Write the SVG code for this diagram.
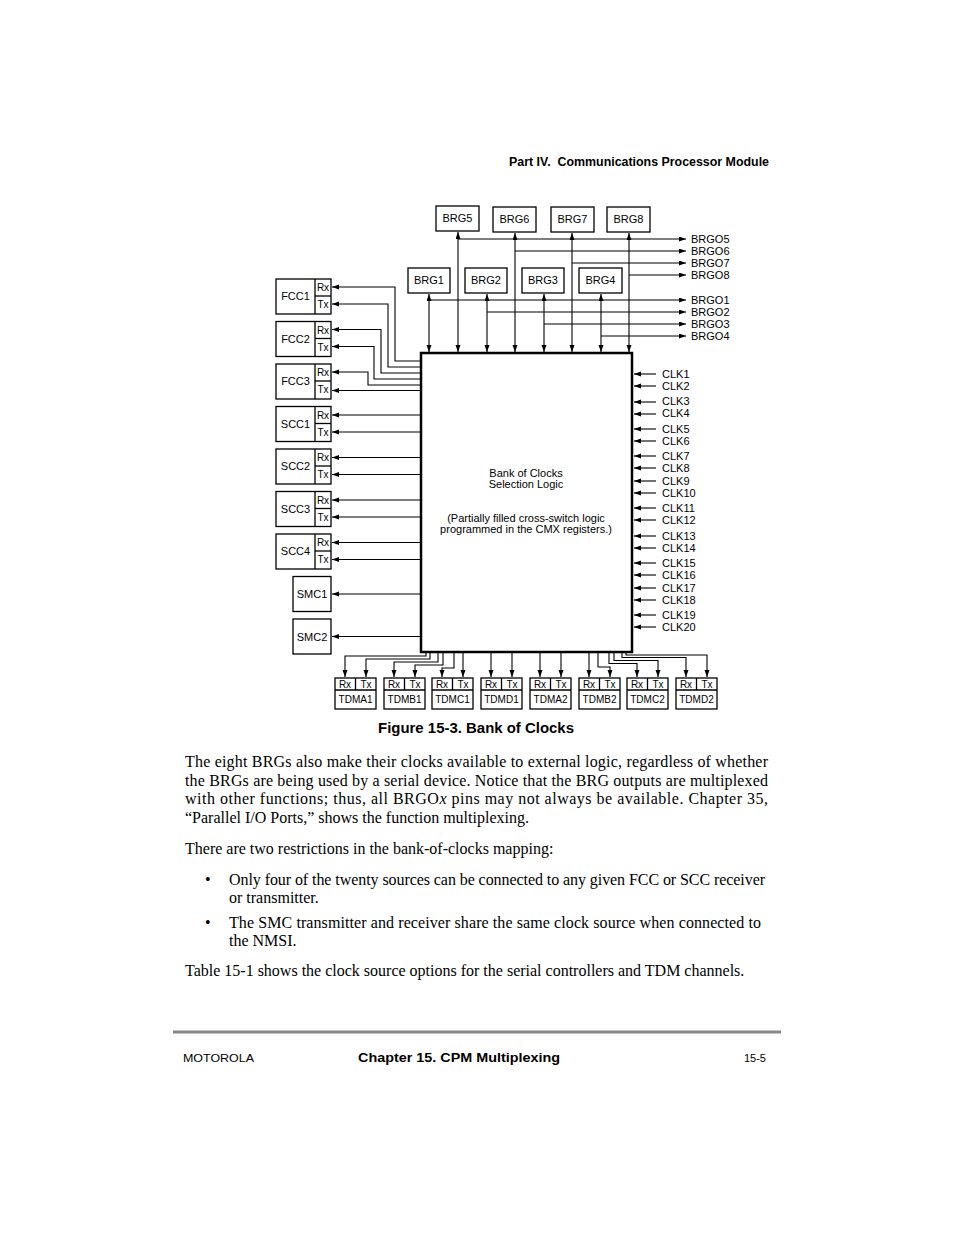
<svg xmlns="http://www.w3.org/2000/svg" width="954" height="1235" viewBox="0 0 954 1235">
<style>
.bx{fill:#fff;stroke:#000;stroke-width:1.3}
.ln{fill:none;stroke:#000;stroke-width:1.1}
.t{font-family:"Liberation Sans",Arial,sans-serif;font-size:11px;fill:#000}
.s{font-family:"Liberation Sans",Arial,sans-serif;font-size:10px;fill:#000;text-anchor:middle}
.c{text-anchor:middle}
.b{font-family:"Liberation Serif","Times New Roman",serif;font-size:16px;fill:#000}
.h{font-family:"Liberation Sans",Arial,sans-serif;font-weight:bold;fill:#000}
</style>
<defs>
<marker id="a" markerUnits="userSpaceOnUse" markerWidth="8" markerHeight="6" refX="7" refY="2.5" orient="auto-start-reverse"><path d="M0,0 L7,2.5 L0,5 z" fill="#000"/></marker>
</defs>
<rect width="954" height="1235" fill="#fff"/>
<text class="h" x="509" y="166" font-size="12.4" textLength="260" lengthAdjust="spacingAndGlyphs">Part IV.&#160; Communications Processor Module</text>

<g id="main"><rect x="421" y="353" width="211" height="299" fill="#fff" stroke="#000" stroke-width="2.5"/>
<text class="t c" x="526" y="477">Bank of Clocks</text>
<text class="t c" x="526" y="488">Selection Logic</text>
<text class="t c" x="526" y="522">(Partially filled cross-switch logic</text>
<text class="t c" x="526" y="533">programmed in the CMX registers.)</text></g>

<g id="brg5"><rect class="bx" x="436" y="206" width="43" height="25"/><text class="t c" x="457.5" y="222">BRG5</text></g>
<g id="brg6"><rect class="bx" x="493" y="207" width="43" height="25"/><text class="t c" x="514.5" y="223">BRG6</text></g>
<g id="brg7"><rect class="bx" x="551" y="207" width="43" height="25"/><text class="t c" x="572.5" y="223">BRG7</text></g>
<g id="brg8"><rect class="bx" x="607" y="207" width="43" height="25"/><text class="t c" x="628.5" y="223">BRG8</text></g>
<g id="brg1"><rect class="bx" x="408" y="268" width="42" height="25"/><text class="t c" x="429" y="284">BRG1</text></g>
<g id="brg2"><rect class="bx" x="465" y="268" width="42" height="25"/><text class="t c" x="486" y="284">BRG2</text></g>
<g id="brg3"><rect class="bx" x="522" y="268" width="42" height="25"/><text class="t c" x="543" y="284">BRG3</text></g>
<g id="brg4"><rect class="bx" x="579" y="268" width="43" height="25"/><text class="t c" x="600.5" y="284">BRG4</text></g>

<g id="fcc1"><rect class="bx" x="276" y="279" width="55" height="35"/><line class="bx" x1="315" y1="279" x2="315" y2="314"/><line class="bx" x1="315" y1="296" x2="331" y2="296"/><text class="t c" x="295.5" y="300">FCC1</text><text class="s" x="323" y="291">Rx</text><text class="s" x="323" y="308">Tx</text></g>
<g id="fcc2"><rect class="bx" x="276" y="321.5" width="55" height="35"/><line class="bx" x1="315" y1="321.5" x2="315" y2="356.5"/><line class="bx" x1="315" y1="338.5" x2="331" y2="338.5"/><text class="t c" x="295.5" y="342.5">FCC2</text><text class="s" x="323" y="333.5">Rx</text><text class="s" x="323" y="350.5">Tx</text></g>
<g id="fcc3"><rect class="bx" x="276" y="364" width="55" height="35"/><line class="bx" x1="315" y1="364" x2="315" y2="399"/><line class="bx" x1="315" y1="381" x2="331" y2="381"/><text class="t c" x="295.5" y="385">FCC3</text><text class="s" x="323" y="376">Rx</text><text class="s" x="323" y="393">Tx</text></g>
<g id="scc1"><rect class="bx" x="276" y="406.5" width="55" height="35"/><line class="bx" x1="315" y1="406.5" x2="315" y2="441.5"/><line class="bx" x1="315" y1="423.5" x2="331" y2="423.5"/><text class="t c" x="295.5" y="427.5">SCC1</text><text class="s" x="323" y="418.5">Rx</text><text class="s" x="323" y="435.5">Tx</text></g>
<g id="scc2"><rect class="bx" x="276" y="449" width="55" height="35"/><line class="bx" x1="315" y1="449" x2="315" y2="484"/><line class="bx" x1="315" y1="466" x2="331" y2="466"/><text class="t c" x="295.5" y="470">SCC2</text><text class="s" x="323" y="461">Rx</text><text class="s" x="323" y="478">Tx</text></g>
<g id="scc3"><rect class="bx" x="276" y="491.5" width="55" height="35"/><line class="bx" x1="315" y1="491.5" x2="315" y2="526.5"/><line class="bx" x1="315" y1="508.5" x2="331" y2="508.5"/><text class="t c" x="295.5" y="512.5">SCC3</text><text class="s" x="323" y="503.5">Rx</text><text class="s" x="323" y="520.5">Tx</text></g>
<g id="scc4"><rect class="bx" x="276" y="534" width="55" height="35"/><line class="bx" x1="315" y1="534" x2="315" y2="569"/><line class="bx" x1="315" y1="551" x2="331" y2="551"/><text class="t c" x="295.5" y="555">SCC4</text><text class="s" x="323" y="546">Rx</text><text class="s" x="323" y="563">Tx</text></g>
<g id="smc1"><rect class="bx" x="293" y="576.5" width="38" height="35"/><text class="t c" x="312" y="598">SMC1</text></g>
<g id="smc2"><rect class="bx" x="293" y="619" width="38" height="35"/><text class="t c" x="312" y="640.5">SMC2</text></g>

<g id="tdma1"><rect class="bx" x="335" y="678" width="41" height="31"/><line class="bx" x1="335" y1="690" x2="376" y2="690"/><line class="bx" x1="355.5" y1="678" x2="355.5" y2="690"/><text class="s" x="345" y="688">Rx</text><text class="s" x="366" y="688">Tx</text><text class="s" x="355.5" y="703">TDMA1</text></g>
<g id="tdmb1"><rect class="bx" x="384" y="678" width="41" height="31"/><line class="bx" x1="384" y1="690" x2="425" y2="690"/><line class="bx" x1="404.5" y1="678" x2="404.5" y2="690"/><text class="s" x="394" y="688">Rx</text><text class="s" x="415" y="688">Tx</text><text class="s" x="404.5" y="703">TDMB1</text></g>
<g id="tdmc1"><rect class="bx" x="432" y="678" width="41" height="31"/><line class="bx" x1="432" y1="690" x2="473" y2="690"/><line class="bx" x1="452.5" y1="678" x2="452.5" y2="690"/><text class="s" x="442" y="688">Rx</text><text class="s" x="463" y="688">Tx</text><text class="s" x="452.5" y="703">TDMC1</text></g>
<g id="tdmd1"><rect class="bx" x="481" y="678" width="41" height="31"/><line class="bx" x1="481" y1="690" x2="522" y2="690"/><line class="bx" x1="501.5" y1="678" x2="501.5" y2="690"/><text class="s" x="491" y="688">Rx</text><text class="s" x="512" y="688">Tx</text><text class="s" x="501.5" y="703">TDMD1</text></g>
<g id="tdma2"><rect class="bx" x="530" y="678" width="41" height="31"/><line class="bx" x1="530" y1="690" x2="571" y2="690"/><line class="bx" x1="550.5" y1="678" x2="550.5" y2="690"/><text class="s" x="540" y="688">Rx</text><text class="s" x="561" y="688">Tx</text><text class="s" x="550.5" y="703">TDMA2</text></g>
<g id="tdmb2"><rect class="bx" x="579" y="678" width="41" height="31"/><line class="bx" x1="579" y1="690" x2="620" y2="690"/><line class="bx" x1="599.5" y1="678" x2="599.5" y2="690"/><text class="s" x="589" y="688">Rx</text><text class="s" x="610" y="688">Tx</text><text class="s" x="599.5" y="703">TDMB2</text></g>
<g id="tdmc2"><rect class="bx" x="627" y="678" width="41" height="31"/><line class="bx" x1="627" y1="690" x2="668" y2="690"/><line class="bx" x1="647.5" y1="678" x2="647.5" y2="690"/><text class="s" x="637" y="688">Rx</text><text class="s" x="658" y="688">Tx</text><text class="s" x="647.5" y="703">TDMC2</text></g>
<g id="tdmd2"><rect class="bx" x="676" y="678" width="41" height="31"/><line class="bx" x1="676" y1="690" x2="717" y2="690"/><line class="bx" x1="696.5" y1="678" x2="696.5" y2="690"/><text class="s" x="686" y="688">Rx</text><text class="s" x="707" y="688">Tx</text><text class="s" x="696.5" y="703">TDMD2</text></g>

<g id="connectors" class="ln">
<path class="ln" marker-start="url(#a)" marker-end="url(#a)" d="M458,232 V352"/>
<path class="ln" marker-start="url(#a)" marker-end="url(#a)" d="M515,233 V352"/>
<path class="ln" marker-start="url(#a)" marker-end="url(#a)" d="M572,233 V352"/>
<path class="ln" marker-start="url(#a)" marker-end="url(#a)" d="M629,233 V352"/>
<path class="ln" marker-start="url(#a)" marker-end="url(#a)" d="M429,294 V352"/>
<path class="ln" marker-start="url(#a)" marker-end="url(#a)" d="M487,294 V352"/>
<path class="ln" marker-start="url(#a)" marker-end="url(#a)" d="M544,294 V352"/>
<path class="ln" marker-start="url(#a)" marker-end="url(#a)" d="M601,294 V352"/>
<path class="ln" marker-end="url(#a)" d="M458,239 H686"/>
<path class="ln" marker-end="url(#a)" d="M515,251 H686"/>
<path class="ln" marker-end="url(#a)" d="M572,263 H686"/>
<path class="ln" marker-end="url(#a)" d="M629,275 H686"/>
<path class="ln" marker-end="url(#a)" d="M429,300 H686"/>
<path class="ln" marker-end="url(#a)" d="M487,312 H686"/>
<path class="ln" marker-end="url(#a)" d="M544,324 H686"/>
<path class="ln" marker-end="url(#a)" d="M601,336 H686"/>

<path class="ln" marker-end="url(#a)" d="M421,361 H395 V287 H332"/>
<path class="ln" marker-end="url(#a)" d="M421,367 H388 V304 H332"/>
<path class="ln" marker-end="url(#a)" d="M421,373 H381 V329.5 H332"/>
<path class="ln" marker-end="url(#a)" d="M421,379 H374 V346.5 H332"/>
<path class="ln" marker-end="url(#a)" d="M421,385 H368 V372 H332"/>
<path class="ln" marker-end="url(#a)" d="M421,390.5 H332"/>
<path class="ln" marker-end="url(#a)" d="M421,415 H332"/>
<path class="ln" marker-end="url(#a)" d="M421,432 H332"/>
<path class="ln" marker-end="url(#a)" d="M421,457.5 H332"/>
<path class="ln" marker-end="url(#a)" d="M421,474.5 H332"/>
<path class="ln" marker-end="url(#a)" d="M421,500 H332"/>
<path class="ln" marker-end="url(#a)" d="M421,517 H332"/>
<path class="ln" marker-end="url(#a)" d="M421,542.5 H332"/>
<path class="ln" marker-end="url(#a)" d="M421,559.5 H332"/>
<path class="ln" marker-end="url(#a)" d="M421,594 H332"/>
<path class="ln" marker-end="url(#a)" d="M421,636.5 H332"/>

<path class="ln" marker-end="url(#a)" d="M426,653 V656 H345 V677"/>
<path class="ln" marker-end="url(#a)" d="M430,653 V659 H366 V677"/>
<path class="ln" marker-end="url(#a)" d="M438,653 V662 H394 V677"/>
<path class="ln" marker-end="url(#a)" d="M443,653 V665 H415 V677"/>
<path class="ln" marker-end="url(#a)" d="M454,653 V668 H442 V677"/>
<path class="ln" marker-end="url(#a)" d="M463,653 V677"/>
<path class="ln" marker-end="url(#a)" d="M491,653 V677"/>
<path class="ln" marker-end="url(#a)" d="M512,653 V677"/>
<path class="ln" marker-end="url(#a)" d="M540,653 V677"/>
<path class="ln" marker-end="url(#a)" d="M561,653 V677"/>
<path class="ln" marker-end="url(#a)" d="M589,653 V677"/>
<path class="ln" marker-end="url(#a)" d="M598,653 V667 H610 V677"/>
<path class="ln" marker-end="url(#a)" d="M609,653 V663.5 H637 V677"/>
<path class="ln" marker-end="url(#a)" d="M614,653 V660.5 H658 V677"/>
<path class="ln" marker-end="url(#a)" d="M622,653 V657.5 H686 V677"/>
<path class="ln" marker-end="url(#a)" d="M626,653 V655 H707 V677"/>

<path class="ln" marker-end="url(#a)" d="M656,374 H634"/>
<path class="ln" marker-end="url(#a)" d="M656,386 H634"/>
<path class="ln" marker-end="url(#a)" d="M656,402 H634"/>
<path class="ln" marker-end="url(#a)" d="M656,414 H634"/>
<path class="ln" marker-end="url(#a)" d="M656,429 H634"/>
<path class="ln" marker-end="url(#a)" d="M656,441 H634"/>
<path class="ln" marker-end="url(#a)" d="M656,456 H634"/>
<path class="ln" marker-end="url(#a)" d="M656,468 H634"/>
<path class="ln" marker-end="url(#a)" d="M656,481 H634"/>
<path class="ln" marker-end="url(#a)" d="M656,493 H634"/>
<path class="ln" marker-end="url(#a)" d="M656,508 H634"/>
<path class="ln" marker-end="url(#a)" d="M656,520 H634"/>
<path class="ln" marker-end="url(#a)" d="M656,536 H634"/>
<path class="ln" marker-end="url(#a)" d="M656,548 H634"/>
<path class="ln" marker-end="url(#a)" d="M656,563 H634"/>
<path class="ln" marker-end="url(#a)" d="M656,575 H634"/>
<path class="ln" marker-end="url(#a)" d="M656,588 H634"/>
<path class="ln" marker-end="url(#a)" d="M656,600 H634"/>
<path class="ln" marker-end="url(#a)" d="M656,615 H634"/>
<path class="ln" marker-end="url(#a)" d="M656,627 H634"/>
</g>

<g id="labels" class="t">
<text x="691" y="243">BRGO5</text><text x="691" y="255">BRGO6</text><text x="691" y="267">BRGO7</text><text x="691" y="279">BRGO8</text>
<text x="691" y="304">BRGO1</text><text x="691" y="316">BRGO2</text><text x="691" y="328">BRGO3</text><text x="691" y="340">BRGO4</text>
<text x="662" y="378">CLK1</text><text x="662" y="390">CLK2</text>
<text x="662" y="405">CLK3</text><text x="662" y="417">CLK4</text>
<text x="662" y="433">CLK5</text><text x="662" y="445">CLK6</text>
<text x="662" y="460">CLK7</text><text x="662" y="472">CLK8</text>
<text x="662" y="485">CLK9</text><text x="662" y="497">CLK10</text>
<text x="662" y="512">CLK11</text><text x="662" y="524">CLK12</text>
<text x="662" y="540">CLK13</text><text x="662" y="552">CLK14</text>
<text x="662" y="567">CLK15</text><text x="662" y="579">CLK16</text>
<text x="662" y="592">CLK17</text><text x="662" y="604">CLK18</text>
<text x="662" y="619">CLK19</text><text x="662" y="631">CLK20</text>
</g>

<text class="h" x="378" y="733" font-size="14.5" textLength="196" lengthAdjust="spacingAndGlyphs">Figure 15-3. Bank of Clocks</text>

<g class="b">
<text x="185" y="767" textLength="583" lengthAdjust="spacing">The eight BRGs also make their clocks available to external logic, regardless of whether</text>
<text x="185" y="786" textLength="583" lengthAdjust="spacing">the BRGs are being used by a serial device. Notice that the BRG outputs are multiplexed</text>
<text x="185" y="804" textLength="583" lengthAdjust="spacing">with other functions; thus, all BRGO<tspan font-style="italic">x</tspan> pins may not always be available. Chapter 35,</text>
<text x="185" y="823">“Parallel I/O Ports,” shows the function multiplexing.</text>
<text x="185" y="854">There are two restrictions in the bank-of-clocks mapping:</text>
<text x="205" y="885">•</text>
<text x="229" y="885" textLength="536" lengthAdjust="spacing">Only four of the twenty sources can be connected to any given FCC or SCC receiver</text>
<text x="229" y="903">or transmitter.</text>
<text x="205" y="928">•</text>
<text x="229" y="928" textLength="532" lengthAdjust="spacing">The SMC transmitter and receiver share the same clock source when connected to</text>
<text x="229" y="946">the NMSI.</text>
<text x="185" y="976">Table 15-1 shows the clock source options for the serial controllers and TDM channels.</text>
</g>

<line x1="173" y1="1032" x2="781" y2="1032" stroke="#888" stroke-width="3"/>
<text class="t" x="183" y="1062" font-size="12.5" textLength="71" lengthAdjust="spacingAndGlyphs">MOTOROLA</text>
<text class="h" x="358" y="1062" font-size="12.5" textLength="202" lengthAdjust="spacingAndGlyphs">Chapter 15. CPM Multiplexing</text>
<text class="t" x="766" y="1062" font-size="12.5" text-anchor="end">15-5</text>
</svg>
